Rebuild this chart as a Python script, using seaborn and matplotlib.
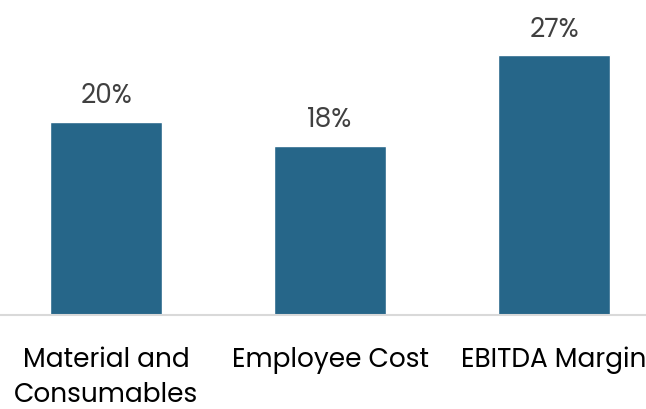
import matplotlib
matplotlib.use("Agg")
import matplotlib.pyplot as plt
import seaborn as sns
import pandas as pd

categories = ["Material and\nConsumables", "Employee Cost", "EBITDA Margin"]
values = [20.0, 17.5, 26.9]
labels = ["20%", "18%", "27%"]

sns.set_theme(style="white")
plt.rcParams['font.family'] = ['Poppins', 'Lato', 'DejaVu Sans']

df = pd.DataFrame({"cat": categories, "val": values})

fig = plt.figure(figsize=(6.46, 4.10), dpi=100)
ax = fig.add_axes([0.0, 0.2293, 1.0, 0.7707])
sns.barplot(data=df, x="cat", y="val", color="#266689", width=0.5, saturation=1, ax=ax)

for i, (v, t) in enumerate(zip(values, labels)):
    ax.text(i, v + 2.0, t, ha="center", va="baseline", fontsize=19, color="#404040")

ax.set_xlim(-106/224, (646-106)/224)
ax.set_ylim(0, 316/9.67)
ax.set_xlabel("")
ax.set_ylabel("")
ax.set_yticks([])
for s in ["top", "right", "left"]:
    ax.spines[s].set_visible(False)
ax.spines["bottom"].set_color("#d9d9d9")
ax.spines["bottom"].set_linewidth(1.5)
ax.tick_params(axis="x", length=0, pad=22, labelsize=19, labelcolor="#000000")
for lab in ax.get_xticklabels():
    lab.set_linespacing(1.4)
    lab.set_va("top")

fig.savefig("out.png", dpi=100)
